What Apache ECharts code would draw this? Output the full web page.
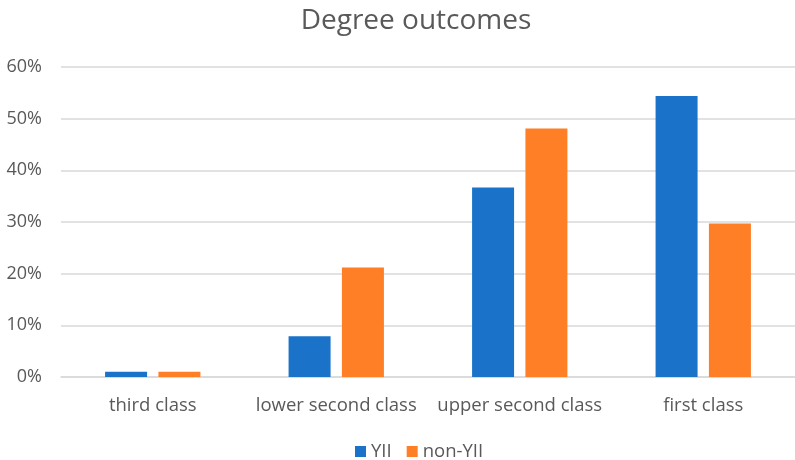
<!DOCTYPE html>
<html>
<head>
<meta charset="utf-8">
<script src="https://cdn.jsdelivr.net/npm/echarts@6/dist/echarts.min.js"></script>
<style>
  html, body { margin: 0; padding: 0; background: #fff; }
  #chart { width: 795px; height: 460px; }
</style>
</head>
<body>
<div id="chart"></div>
<script>
const categories = ["third class", "lower second class", "upper second class", "first class"];
const yiiValues = [1.0, 7.9, 36.7, 54.4];
const nonYiiValues = [1.0, 21.2, 48.1, 29.7];
const seriesNames = ["YII", "non-YII"];

const textColor = "#595959";
const fontFamily = "'Open Sans', 'Noto Sans', sans-serif";

const chart = echarts.init(document.getElementById("chart"));

chart.setOption({
  animation: false,
  title: {
    text: "Degree outcomes",
    left: 411,
    top: 2,
    textAlign: "center",
    textStyle: {
      color: textColor,
      fontSize: 28,
      fontWeight: "normal",
      fontFamily: fontFamily
    }
  },
  legend: {
    data: seriesNames,
    left: 350,
    top: 437,
    itemWidth: 11,
    itemHeight: 11,
    itemGap: 15,
    icon: "rect",
    textStyle: { color: textColor, fontSize: 18.5, fontFamily: fontFamily }
  },
  grid: {
    left: 61,
    top: 67,
    width: 744,
    height: 310
  },
  xAxis: {
    type: "category",
    data: categories,
    axisLine: { lineStyle: { color: "#d9d9d9", width: 1.5 } },
    axisTick: { show: false },
    axisLabel: {
      interval: 0,
      color: textColor,
      fontSize: 18.5,
      fontFamily: fontFamily,
      margin: 19
    }
  },
  yAxis: {
    type: "value",
    min: 0,
    max: 60,
    interval: 10,
    axisLine: { show: false },
    axisTick: { show: false },
    splitLine: { lineStyle: { color: "#d9d9d9", width: 1.5 } },
    axisLabel: {
      formatter: "{value}%",
      color: textColor,
      fontSize: 18,
      fontFamily: fontFamily,
      margin: 19
    }
  },
  series: [
    {
      name: seriesNames[0],
      type: "bar",
      data: yiiValues,
      barWidth: 42,
      barGap: "27%",
      itemStyle: { color: "#1a73c8" }
    },
    {
      name: seriesNames[1],
      type: "bar",
      data: nonYiiValues,
      barWidth: 42,
      itemStyle: { color: "#ff7f27" }
    }
  ]
});
</script>
</body>
</html>
